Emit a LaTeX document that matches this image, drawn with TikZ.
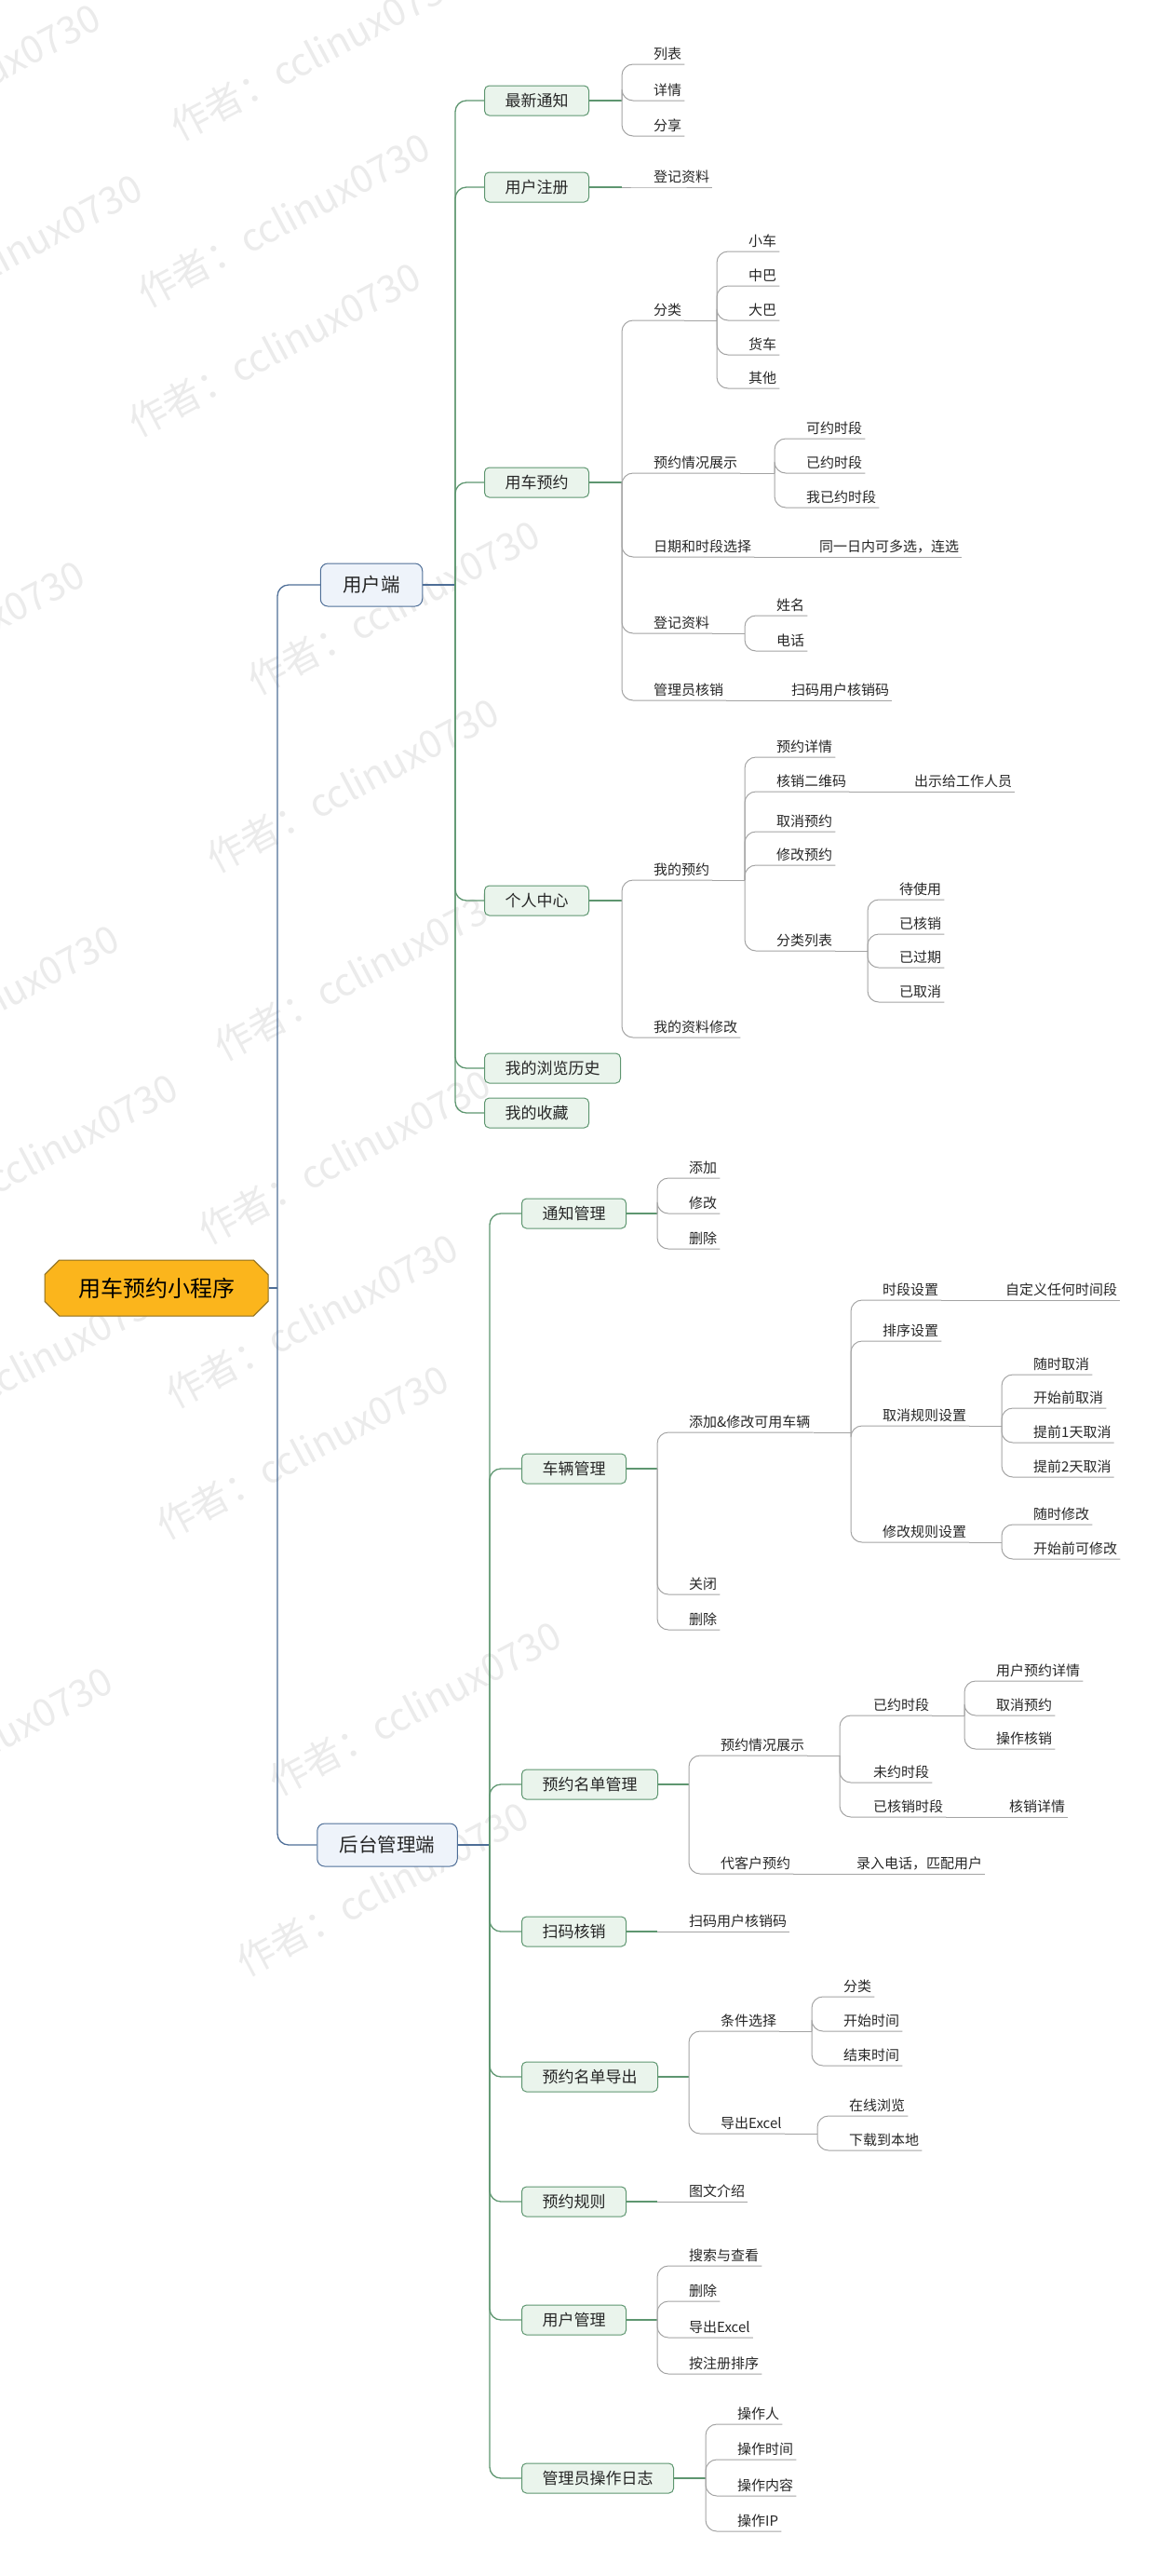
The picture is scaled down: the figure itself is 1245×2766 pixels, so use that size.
\documentclass[tikz,border=0pt]{standalone}
\usepackage{fontspec}
\setmainfont{Noto Sans CJK SC}
\usetikzlibrary{shapes.misc}
\definecolor{rootfill}{HTML}{FBB51C}
\definecolor{rootline}{HTML}{8C6D1F}
\definecolor{sidefill}{HTML}{EEF3FA}
\definecolor{sideline}{HTML}{4E6E97}
\definecolor{topicfill}{HTML}{EAF4EC}
\definecolor{topicline}{HTML}{5E9670}
\definecolor{leafline}{HTML}{A3A3A3}
\definecolor{wmcol}{HTML}{EBEBEB}
\definecolor{txt}{HTML}{262626}
\tikzset{
  root/.style={chamfered rectangle, chamfered rectangle xsep=12pt,
    draw=rootline, fill=rootfill, line width=1pt, minimum width=240pt,
    minimum height=60pt, font=\fontsize{24}{28}\selectfont},
  side/.style={draw=sideline, fill=sidefill, rounded corners=8pt, line width=1pt,
    inner xsep=24pt, minimum height=46pt, text=txt, font=\fontsize{20.5}{24}\selectfont},
  topic/.style={anchor=west, draw=topicline, fill=topicfill, rounded corners=5pt,
    line width=1pt, inner xsep=22pt, minimum height=32pt, text=txt,
    font=\fontsize{17}{20}\selectfont},
  leaf/.style={anchor=south west, inner xsep=3pt, inner ysep=4pt, text=txt,
    font=\fontsize{15}{18}\selectfont},
  wmark/.style={rotate=28, text=wmcol, font=\fontsize{41}{44}\selectfont},
  bluel/.style={draw=sideline, line width=1.3pt, rounded corners=12pt},
  greenl/.style={draw=topicline, line width=1.3pt, rounded corners=12pt},
  grayl/.style={draw=leafline, line width=1pt, rounded corners=12pt}
}
\begin{document}
\begin{tikzpicture}[x=1pt,y=-1pt]
\useasboundingbox (0,0) rectangle (1245,2766);
% watermark
\foreach \p [count=\i] in {(340,57),(305,236),(295,375),(423,652),(379,843),(387,1045),
  (370,1242),(335,1418),(325,1559),(446,1834),(411,2028),(-49,97),(-4,280),(-66,695),
  (-29,1086),(34,1246),(24,1469),(-36,1883)}
  \node[wmark] (wm\i) at \p {作者：cclinux0730};

% root and the two sides
\node[root] (r) at (168,1383) {用车预约小程序};
\node[side] (u) at (399,628) {用户端};
\node[side] (a) at (416,1981) {后台管理端};
\coordinate (br) at (298,1383);
\draw[bluel] (r.east) -- (br);
\draw[bluel] (br) |- (u.west);
\draw[bluel] (br) |- (a.west);

%%%%%%%% 用户端
\coordinate (bu) at (489,628);
\draw[bluel] (u.east) -- (bu);
\foreach \n/\y/\t in {zx/108/最新通知, zc/201/用户注册, yc/518/用车预约,
  gr/967/个人中心, ls/1147/我的浏览历史, sc/1195/我的收藏} {
  \node[topic] (\n) at (520,\y) {\t};
  \draw[greenl] (bu) |- (\n.west);
}

% 最新通知
\coordinate (bzx) at (668,108);
\draw[greenl] (zx.east) -- (bzx);
\foreach \t/\y [count=\i] in {列表/69, 详情/108, 分享/146} {
  \node[leaf] (zx\i) at (699,\y) {\t};
  \draw[grayl] (bzx) |- (zx\i.south west) -- (zx\i.south east);
}

% 用户注册
\coordinate (bzc) at (668,201);
\draw[greenl] (zc.east) -- (bzc);
\node[leaf] (zc1) at (699,201) {登记资料};
\draw[grayl] (bzc) -- (zc1.south west) -- (zc1.south east);

% 用车预约
\coordinate (byc) at (668,518);
\draw[greenl] (yc.east) -- (byc);
\foreach \t/\y [count=\i] in {分类/344, 预约情况展示/508, 日期和时段选择/598,
  登记资料/680, 管理员核销/752} {
  \node[leaf] (yc\i) at (699,\y) {\t};
  \draw[grayl] (byc) |- (yc\i.south west) -- (yc\i.south east);
}
\coordinate (bfl) at (770,344);
\draw[grayl] (yc1.south east) -- (bfl);
\foreach \t/\y [count=\i] in {小车/270, 中巴/307, 大巴/344, 货车/381, 其他/417} {
  \node[leaf] (fl\i) at (801,\y) {\t};
  \draw[grayl] (bfl) |- (fl\i.south west) -- (fl\i.south east);
}
\coordinate (bqk) at (832,508);
\draw[grayl] (yc2.south east) -- (bqk);
\foreach \t/\y [count=\i] in {可约时段/471, 已约时段/508, 我已约时段/545} {
  \node[leaf] (qk\i) at (863,\y) {\t};
  \draw[grayl] (bqk) |- (qk\i.south west) -- (qk\i.south east);
}
\node[leaf] (rq) at (877,598) {同一日内可多选，连选};
\draw[grayl] (yc3.south east) -- (rq.south west) -- (rq.south east);
\coordinate (bdj) at (800,680);
\draw[grayl] (yc4.south east) -- (bdj);
\foreach \t/\y [count=\i] in {姓名/661, 电话/699} {
  \node[leaf] (dj\i) at (831,\y) {\t};
  \draw[grayl] (bdj) |- (dj\i.south west) -- (dj\i.south east);
}
\node[leaf] (hx) at (847,752) {扫码用户核销码};
\draw[grayl] (yc5.south east) -- (hx.south west) -- (hx.south east);

% 个人中心
\coordinate (bgr) at (668,967);
\draw[greenl] (gr.east) -- (bgr);
\foreach \t/\y [count=\i] in {我的预约/945, 我的资料修改/1114} {
  \node[leaf] (gr\i) at (699,\y) {\t};
  \draw[grayl] (bgr) |- (gr\i.south west) -- (gr\i.south east);
}
\coordinate (bwy) at (800,945);
\draw[grayl] (gr1.south east) -- (bwy);
\foreach \t/\y [count=\i] in {预约详情/813, 核销二维码/850, 取消预约/893,
  修改预约/929, 分类列表/1021} {
  \node[leaf] (wy\i) at (831,\y) {\t};
  \draw[grayl] (bwy) |- (wy\i.south west) -- (wy\i.south east);
}
\node[leaf] (cs) at (979,850) {出示给工作人员};
\draw[grayl] (wy2.south east) -- (cs.south west) -- (cs.south east);
\coordinate (blb) at (932,1021);
\draw[grayl] (wy5.south east) -- (blb);
\foreach \t/\y [count=\i] in {待使用/966, 已核销/1003, 已过期/1039, 已取消/1076} {
  \node[leaf] (lb\i) at (963,\y) {\t};
  \draw[grayl] (blb) |- (lb\i.south west) -- (lb\i.south east);
}

%%%%%%%% 后台管理端
\coordinate (ba) at (526,1981);
\draw[bluel] (a.east) -- (ba);
\foreach \n/\y/\t in {tz/1303/通知管理, cl/1577/车辆管理, md/1916/预约名单管理,
  sm/2074/扫码核销, dc/2230/预约名单导出, gz/2364/预约规则, yh/2491/用户管理,
  rz/2661/管理员操作日志} {
  \node[topic] (\n) at (560,\y) {\t};
  \draw[greenl] (ba) |- (\n.west);
}

% 通知管理
\coordinate (btz) at (706,1303);
\draw[greenl] (tz.east) -- (btz);
\foreach \t/\y [count=\i] in {添加/1265, 修改/1303, 删除/1341} {
  \node[leaf] (tz\i) at (737,\y) {\t};
  \draw[grayl] (btz) |- (tz\i.south west) -- (tz\i.south east);
}

% 车辆管理
\coordinate (bcl) at (706,1577);
\draw[greenl] (cl.east) -- (bcl);
\foreach \t/\y [count=\i] in {添加\&修改可用车辆/1538, 关闭/1712, 删除/1750} {
  \node[leaf] (cl\i) at (737,\y) {\t};
  \draw[grayl] (bcl) |- (cl\i.south west) -- (cl\i.south east);
}
\coordinate (bsd) at (914,1538);
\draw[grayl] (cl1.south east) -- (bsd);
\foreach \t/\y [count=\i] in {时段设置/1396, 排序设置/1440, 取消规则设置/1531,
  修改规则设置/1656} {
  \node[leaf] (sd\i) at (945,\y) {\t};
  \draw[grayl] (bsd) |- (sd\i.south west) -- (sd\i.south east);
}
\node[leaf] (zd) at (1077,1396) {自定义任何时间段};
\draw[grayl] (sd1.south east) -- (zd.south west) -- (zd.south east);
\coordinate (bqx) at (1076,1531);
\draw[grayl] (sd3.south east) -- (bqx);
\foreach \t/\y [count=\i] in {随时取消/1476, 开始前取消/1512, 提前1天取消/1549,
  提前2天取消/1586} {
  \node[leaf] (qx\i) at (1107,\y) {\t};
  \draw[grayl] (bqx) |- (qx\i.south west) -- (qx\i.south east);
}
\coordinate (bxg) at (1076,1656);
\draw[grayl] (sd4.south east) -- (bxg);
\foreach \t/\y [count=\i] in {随时修改/1637, 开始前可修改/1674} {
  \node[leaf] (xg\i) at (1107,\y) {\t};
  \draw[grayl] (bxg) |- (xg\i.south west) -- (xg\i.south east);
}

% 预约名单管理
\coordinate (bmd) at (740,1916);
\draw[greenl] (md.east) -- (bmd);
\foreach \t/\y [count=\i] in {预约情况展示/1885, 代客户预约/2012} {
  \node[leaf] (md\i) at (771,\y) {\t};
  \draw[grayl] (bmd) |- (md\i.south west) -- (md\i.south east);
}
\coordinate (bzs) at (902,1885);
\draw[grayl] (md1.south east) -- (bzs);
\foreach \t/\y [count=\i] in {已约时段/1842, 未约时段/1914, 已核销时段/1951} {
  \node[leaf] (zs\i) at (935,\y) {\t};
  \draw[grayl] (bzs) |- (zs\i.south west) -- (zs\i.south east);
}
\coordinate (byy) at (1036,1842);
\draw[grayl] (zs1.south east) -- (byy);
\foreach \t/\y [count=\i] in {用户预约详情/1805, 取消预约/1842, 操作核销/1878} {
  \node[leaf] (yy\i) at (1067,\y) {\t};
  \draw[grayl] (byy) |- (yy\i.south west) -- (yy\i.south east);
}
\node[leaf] (hxq) at (1081,1951) {核销详情};
\draw[grayl] (zs3.south east) -- (hxq.south west) -- (hxq.south east);
\node[leaf] (lr) at (917,2012) {录入电话，匹配用户};
\draw[grayl] (md2.south east) -- (lr.south west) -- (lr.south east);

% 扫码核销
\coordinate (bsm) at (706,2074);
\draw[greenl] (sm.east) -- (bsm);
\node[leaf] (sm1) at (737,2074) {扫码用户核销码};
\draw[grayl] (bsm) -- (sm1.south west) -- (sm1.south east);

% 预约名单导出
\coordinate (bdc) at (740,2230);
\draw[greenl] (dc.east) -- (bdc);
\foreach \t/\y [count=\i] in {条件选择/2181, 导出Excel/2291} {
  \node[leaf] (dc\i) at (771,\y) {\t};
  \draw[grayl] (bdc) |- (dc\i.south west) -- (dc\i.south east);
}
\coordinate (btj) at (872,2181);
\draw[grayl] (dc1.south east) -- (btj);
\foreach \t/\y [count=\i] in {分类/2144, 开始时间/2181, 结束时间/2218} {
  \node[leaf] (tj\i) at (903,\y) {\t};
  \draw[grayl] (btj) |- (tj\i.south west) -- (tj\i.south east);
}
\coordinate (bdo) at (878,2291);
\draw[grayl] (dc2.south east) -- (bdo);
\foreach \t/\y [count=\i] in {在线浏览/2272, 下载到本地/2309} {
  \node[leaf] (do\i) at (909,\y) {\t};
  \draw[grayl] (bdo) |- (do\i.south west) -- (do\i.south east);
}

% 预约规则
\coordinate (bgz) at (706,2364);
\draw[greenl] (gz.east) -- (bgz);
\node[leaf] (gz1) at (737,2364) {图文介绍};
\draw[grayl] (bgz) -- (gz1.south west) -- (gz1.south east);

% 用户管理
\coordinate (byh) at (706,2491);
\draw[greenl] (yh.east) -- (byh);
\foreach \t/\y [count=\i] in {搜索与查看/2433, 删除/2471, 导出Excel/2510, 按注册排序/2549} {
  \node[leaf] (yh\i) at (737,\y) {\t};
  \draw[grayl] (byh) |- (yh\i.south west) -- (yh\i.south east);
}

% 管理员操作日志
\coordinate (brz) at (758,2661);
\draw[greenl] (rz.east) -- (brz);
\foreach \t/\y [count=\i] in {操作人/2603, 操作时间/2641, 操作内容/2680, 操作IP/2718} {
  \node[leaf] (rz\i) at (789,\y) {\t};
  \draw[grayl] (brz) |- (rz\i.south west) -- (rz\i.south east);
}
\end{tikzpicture}
\end{document}
